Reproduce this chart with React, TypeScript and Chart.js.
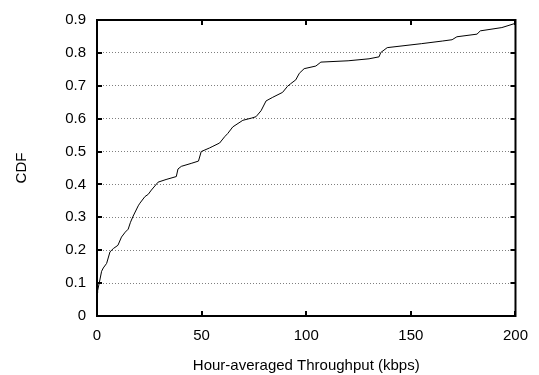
import React, { useEffect, useRef } from "react";
import { Chart, registerables } from "chart.js";

Chart.register(...registerables);

const throughput = [
  0, 0.3, 1, 2.2, 3, 4.6, 6.2, 7.8, 10, 11.7, 13.5, 14.9, 16, 17.3, 19.7, 20.5,
  22.9, 24.5, 26, 29.2, 33, 37.9, 38.7, 40.3, 45, 48.5, 49.8, 53.8, 55.4, 58.6,
  61, 62.5, 64.9, 69.7, 74, 76, 78.4, 80.8, 84, 88.7, 91, 92.5, 95, 96.7, 99,
  104.6, 107, 120, 130, 134.8, 135.6, 138.7, 155, 165, 169.7, 172, 181.6, 183.2,
  193.5, 200,
];
const cdf = [
  0.07, 0.077, 0.098, 0.136, 0.146, 0.16, 0.195, 0.205, 0.215, 0.24, 0.255,
  0.264, 0.285, 0.304, 0.335, 0.343, 0.363, 0.37, 0.383, 0.407, 0.415, 0.424,
  0.447, 0.455, 0.464, 0.471, 0.5, 0.511, 0.516, 0.526, 0.545, 0.555, 0.575,
  0.595, 0.602, 0.606, 0.624, 0.654, 0.665, 0.68, 0.698, 0.706, 0.718, 0.738,
  0.752, 0.76, 0.772, 0.776, 0.782, 0.788, 0.801, 0.816, 0.828, 0.836, 0.84,
  0.849, 0.857, 0.867, 0.877, 0.89,
];
const xTicks = [0, 50, 100, 150, 200];
const yTicks = [0, 0.1, 0.2, 0.3, 0.4, 0.5, 0.6, 0.7, 0.8, 0.9];
const xTitle = "Hour-averaged Throughput (kbps)";
const yTitle = "CDF";

const FONT = "'Liberation Sans', Arial, Helvetica, sans-serif";

const framePlugin = {
  id: "frame",
  afterDraw(chart: any) {
    const { ctx, chartArea } = chart;
    const { left, right, top, bottom } = chartArea;
    const xs = chart.scales.x;
    const ys = chart.scales.y;
    ctx.save();
    ctx.strokeStyle = "#000";
    ctx.lineWidth = 2;
    const tl = 5;
    ctx.beginPath();
    xTicks.forEach((v) => {
      const px = Math.round(xs.getPixelForValue(v));
      ctx.moveTo(px, bottom);
      ctx.lineTo(px, bottom - tl);
      ctx.moveTo(px, top);
      ctx.lineTo(px, top + tl);
    });
    yTicks.forEach((v) => {
      const py = Math.round(ys.getPixelForValue(v));
      ctx.moveTo(left, py);
      ctx.lineTo(left + tl, py);
      ctx.moveTo(right, py);
      ctx.lineTo(right - tl, py);
    });
    ctx.stroke();
    ctx.strokeRect(left, top, right - left, bottom - top);
    ctx.restore();
  },
};

export default function App() {
  const ref = useRef<HTMLCanvasElement | null>(null);
  useEffect(() => {
    if (!ref.current) return;
    const points = throughput.map((x, i) => ({ x, y: cdf[i] }));
    const chart = new Chart(ref.current, {
      type: "scatter",
      data: {
        datasets: [
          {
            data: points,
            showLine: true,
            borderColor: "#000",
            borderWidth: 1,
            pointRadius: 0,
            fill: false,
            tension: 0,
          },
        ],
      },
      options: {
        animation: false,
        responsive: true,
        maintainAspectRatio: false,
        layout: { padding: { left: 0, right: 22, top: 12, bottom: 0 } },
        plugins: { legend: { display: false }, tooltip: { enabled: false } },
        scales: {
          x: {
            type: "linear",
            min: 0,
            max: 200,
            afterBuildTicks: (s: any) => {
              s.ticks = xTicks.map((v) => ({ value: v }));
            },
            afterFit: (s: any) => {
              s.height = 59;
            },
            grid: { display: false, drawTicks: false },
            border: { display: false },
            ticks: {
              color: "#000",
              font: { family: FONT, size: 15 },
              padding: 11,
              maxRotation: 0,
              callback: (v: any) => String(v),
            },
            title: {
              display: true,
              text: xTitle,
              color: "#000",
              font: { family: FONT, size: 15 },
              padding: { top: 6, bottom: 0 },
            },
          },
          y: {
            type: "linear",
            min: 0,
            max: 0.9,
            afterBuildTicks: (s: any) => {
              s.ticks = yTicks.map((v) => ({ value: v }));
            },
            afterFit: (s: any) => {
              s.width = 97;
            },
            grid: {
              display: true,
              drawTicks: false,
              color: "rgba(0,0,0,0.5)",
              lineWidth: 1,
            },
            border: { display: false, dash: [1, 2] },
            ticks: {
              color: "#000",
              font: { family: FONT, size: 15 },
              padding: 11,
              callback: (v: any) => (Number(v) === 0 ? "0" : Number(v).toFixed(1)),
            },
            title: {
              display: true,
              text: yTitle,
              color: "#000",
              font: { family: FONT, size: 15 },
              padding: { top: 13, bottom: 0 },
            },
          },
        },
      },
      plugins: [framePlugin],
    } as any);
    return () => chart.destroy();
  }, []);
  return (
    <div
      style={{
        position: "fixed",
        left: 0,
        top: 0,
        width: 539,
        height: 375,
        background: "#fff",
      }}
    >
      <canvas ref={ref} />
    </div>
  );
}
